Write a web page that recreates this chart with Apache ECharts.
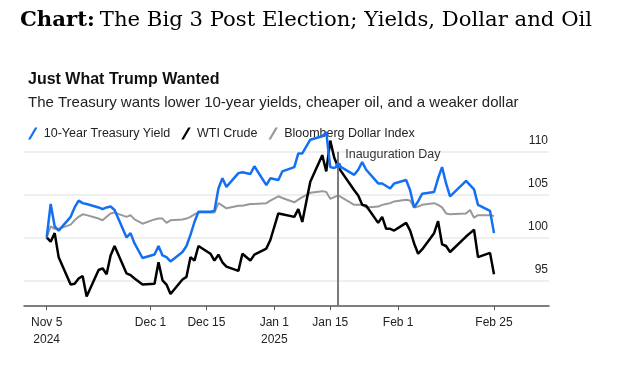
<!DOCTYPE html>
<html>
<head>
<meta charset="utf-8">
<script src="https://cdn.jsdelivr.net/npm/echarts@6/dist/echarts.min.js"></script>
<style>
html,body{margin:0;padding:0;background:#fff;}
#c{width:618px;height:372px;}
</style>
</head>
<body>
<div id="c"></div>
<script>
// ---- data (trading days, values rebased to 100 on Nov 5, 2024) ----
var dates = [
 '2024-11-05','2024-11-06','2024-11-07','2024-11-08','2024-11-11','2024-11-12','2024-11-13','2024-11-14','2024-11-15',
 '2024-11-18','2024-11-19','2024-11-20','2024-11-21','2024-11-22','2024-11-25','2024-11-26','2024-11-27','2024-11-29',
 '2024-12-02','2024-12-03','2024-12-04','2024-12-05','2024-12-06','2024-12-09','2024-12-10','2024-12-11','2024-12-12','2024-12-13',
 '2024-12-16','2024-12-17','2024-12-18','2024-12-19','2024-12-20','2024-12-23','2024-12-24','2024-12-26','2024-12-27',
 '2024-12-30','2024-12-31','2025-01-02','2025-01-03','2025-01-06','2025-01-07','2025-01-08','2025-01-10',
 '2025-01-13','2025-01-14','2025-01-15','2025-01-16','2025-01-17','2025-01-21','2025-01-22','2025-01-23','2025-01-24',
 '2025-01-27','2025-01-28','2025-01-29','2025-01-30','2025-01-31','2025-02-03','2025-02-04','2025-02-05','2025-02-06','2025-02-07',
 '2025-02-10','2025-02-11','2025-02-12','2025-02-13','2025-02-14','2025-02-18','2025-02-19','2025-02-20','2025-02-21',
 '2025-02-24','2025-02-25'
];
var treasuryYield = [
 100.0,103.9,101.3,100.8,102.4,103.5,104.3,104.0,103.9,
 103.5,103.3,103.5,103.6,103.2,100.0,100.5,99.3,97.6,
 98.0,99.0,97.9,97.7,97.2,98.3,99.0,100.3,101.8,103.0,
 103.0,103.1,105.7,106.9,105.9,107.5,107.6,107.4,108.3,
 106.1,106.9,106.7,107.7,108.2,109.8,109.8,111.4,
 111.8,112.3,108.2,108.1,108.4,107.3,107.9,108.8,107.9,
 106.3,106.3,106.0,105.7,106.3,106.7,105.5,103.5,104.2,105.1,
 105.3,106.9,108.2,106.3,104.8,106.6,106.1,105.6,103.8,
 103.1,100.5
];
var wtiCrude = [
 100.0,99.5,100.5,97.7,94.5,94.6,95.2,95.5,93.1,
 96.2,96.4,95.7,97.9,99.0,95.8,95.6,95.2,94.5,
 94.6,97.1,95.0,94.5,93.4,95.1,95.4,97.7,97.3,99.0,
 98.1,97.3,98.0,97.1,96.6,96.1,98.1,97.3,98.0,
 98.7,99.7,102.8,102.7,102.4,103.3,101.8,106.5,
 109.6,107.7,111.3,109.3,108.2,105.5,104.9,103.8,103.7,
 101.7,102.4,101.0,101.0,100.8,101.7,100.8,99.3,98.1,98.6,
 100.5,101.9,99.2,99.0,98.3,100.1,100.5,100.9,97.7,
 98.2,95.7
];
var dollarIndex = [
 100.0,101.3,101.0,101.0,101.5,102.0,102.4,102.7,102.6,
 102.2,102.0,102.4,102.8,102.9,102.4,102.6,102.1,101.6,
 102.1,102.2,102.2,101.7,102.0,102.1,102.2,102.4,102.7,102.9,
 102.9,102.9,104.0,103.7,103.4,103.7,103.7,103.9,103.9,
 104.0,104.3,104.8,104.6,104.1,104.4,104.7,105.2,
 105.4,105.3,104.5,104.7,104.9,103.8,103.8,103.8,103.5,
 103.6,103.8,103.9,104.0,104.2,104.4,104.3,103.5,103.6,103.8,
 104.0,103.8,103.5,102.8,102.7,102.8,103.2,102.3,102.6,
 102.6,102.5
];
var seriesNames = ['10-Year Treasury Yield', 'WTI Crude', 'Bloomberg Dollar Index'];
var yTicks = [95, 100, 105, 110];
var xTickDates = ['2024-11-05','2024-12-01','2024-12-15','2025-01-01','2025-01-15','2025-02-01','2025-02-25'];
var xTickLabels = ['Nov 5\n2024','Dec 1','Dec 15','Jan 1\n2025','Jan 15','Feb 1','Feb 25'];
var inaugurationDate = '2025-01-17';
var inaugurationLabel = 'Inauguration Day';

// ---- helpers: x is measured in calendar days since the first date ----
var DAY = 86400000;
function ts(s){ var p = s.split('-'); return Date.UTC(+p[0], +p[1]-1, +p[2]); }
var t0 = ts(dates[0]);
function dayOf(s){ return Math.round((ts(s) - t0) / DAY); }
function pairs(vals){ return dates.map(function(d,i){ return [dayOf(d), vals[i]]; }); }
var tickDays = xTickDates.map(dayOf);
var labelMap = {};
tickDays.forEach(function(t,i){ labelMap[t] = xTickLabels[i]; });
var inaugDay = dayOf(inaugurationDate);
var blueAtInaug = treasuryYield[dates.indexOf(inaugurationDate)];

var slash = 'path://M0,12 L7,0 L9.5,0 L2.5,12 Z';
var font = '"Liberation Sans", Arial, Helvetica, sans-serif';
var serif = '"DejaVu Serif", "Liberation Serif", serif';

var chart = echarts.init(document.getElementById('c'), null, {renderer:'canvas'});
chart.setOption({
  backgroundColor: '#ffffff',
  animation: false,
  textStyle: { fontFamily: font },
  title: [
    { text: '{b|Chart:} {r|The Big 3 Post Election; Yields, Dollar and Oil}', left: 15, top: 4,
      textStyle: { fontWeight: 'normal', rich: {
        b: { fontFamily: serif, fontWeight: 'bold', fontSize: 21.2, color: '#000', lineHeight: 23 },
        r: { fontFamily: serif, fontWeight: 'normal', fontSize: 21.2, color: '#000', lineHeight: 23 }
      } } },
    { text: 'Just What Trump Wanted', left: 23, top: 66,
      textStyle: { fontFamily: font, fontWeight: 'bold', fontSize: 16, color: '#111', lineHeight: 17 } },
    { text: 'The Treasury wants lower 10-year yields, cheaper oil, and a weaker dollar', left: 23, top: 90,
      textStyle: { fontFamily: font, fontWeight: 'normal', fontSize: 15, color: '#222', lineHeight: 16 } }
  ],
  legend: {
    left: 23, top: 122, itemWidth: 10, itemHeight: 12, itemGap: 11,
    textStyle: { fontFamily: font, fontSize: 12.5, color: '#222', padding: [0,0,0,1] },
    data: [
      { name: seriesNames[0], icon: slash },
      { name: seriesNames[1], icon: slash },
      { name: seriesNames[2], icon: slash }
    ]
  },
  grid: { left: 24, right: 69, top: 126, bottom: 66 },
  xAxis: {
    type: 'value',
    min: -5.68,
    max: tickDays[tickDays.length-1] + 13.77,
    axisLine: { show: true, lineStyle: { color: '#555', width: 1.5 } },
    axisTick: { show: true, length: 4, lineStyle: { color: '#555', width: 1 }, customValues: tickDays },
    axisLabel: { customValues: tickDays, color: '#222', fontSize: 12, lineHeight: 17, margin: 8,
      formatter: function(v){ return labelMap[v] !== undefined ? labelMap[v] : ''; } },
    splitLine: { show: false }
  },
  yAxis: {
    type: 'value', position: 'right', min: 92, max: 113,
    axisLine: { show: false },
    axisTick: { show: false, customValues: yTicks },
    axisLabel: { customValues: yTicks, inside: true, margin: 1, color: '#222', fontSize: 12,
      verticalAlign: 'bottom', padding: [0,0,5,0] },
    splitLine: { show: true, lineStyle: { color: '#efefef', width: 2 } }
  },
  series: [
    { name: seriesNames[0], type: 'line', data: pairs(treasuryYield), showSymbol: false, symbol: 'none',
      color: '#1470f0', lineStyle: { width: 2.5, color: '#1470f0' }, z: 4,
      markPoint: { silent: true, symbol: 'circle', symbolSize: 6, itemStyle: { color: '#1470f0' },
        label: { show: false }, data: [ { coord: [inaugDay, blueAtInaug] } ] } },
    { name: seriesNames[1], type: 'line', data: pairs(wtiCrude), showSymbol: false, symbol: 'none',
      color: '#000', lineStyle: { width: 2.5, color: '#000' }, z: 3,
      markLine: { silent: true, symbol: 'none', lineStyle: { color: '#7a7a7a', width: 2, type: 'solid' },
        label: { show: false },
        data: [ [ { coord: [inaugDay, 110] }, { coord: [inaugDay, 92] } ] ] },
      markPoint: { silent: true, symbol: 'circle', symbolSize: 0,
        label: { show: true, position: 'right', distance: 7, formatter: inaugurationLabel,
          color: '#333', fontSize: 12.5, fontFamily: font },
        data: [ { coord: [inaugDay, 109.65] } ] } },
    { name: seriesNames[2], type: 'line', data: pairs(dollarIndex), showSymbol: false, symbol: 'none',
      color: '#999', lineStyle: { width: 2, color: '#999' }, z: 2 }
  ]
});
</script>
</body>
</html>
